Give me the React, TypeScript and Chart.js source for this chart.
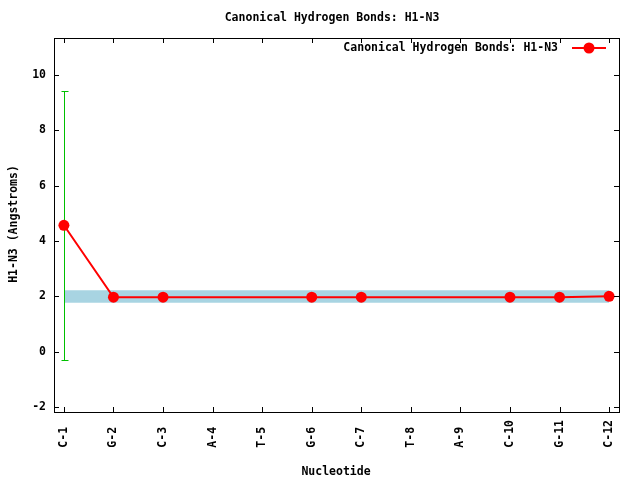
import React, { useEffect, useRef } from "react";
import { Chart, registerables } from "chart.js";

Chart.register(...registerables);

const categories = ["C-1", "G-2", "C-3", "A-4", "T-5", "G-6", "C-7", "T-8", "A-9", "C-10", "G-11", "C-12"];
const values: (number | null)[] = [4.57, 1.97, 1.97, null, null, 1.97, 1.97, null, null, 1.97, 1.97, 2.0];
const errLow: (number | null)[] = [-0.3, null, null, null, null, null, null, null, null, null, null, null];
const errHigh: (number | null)[] = [9.41, null, null, null, null, null, null, null, null, null, null, null];
const bandLow = 1.77;
const bandHigh = 2.22;
const yTicks = [-2, 0, 2, 4, 6, 8, 10];

const title = "Canonical Hydrogen Bonds: H1-N3";
const seriesLabel = "Canonical Hydrogen Bonds: H1-N3";
const xTitle = "Nucleotide";
const yTitle = "H1-N3 (Angstroms)";

const FONT = "'DejaVu Sans Mono', monospace";
const fontSpec = { family: FONT, weight: "bold" as const, size: 11.5 };

export default function App() {
  const ref = useRef<HTMLCanvasElement | null>(null);

  useEffect(() => {
    if (!ref.current) return;
    const maxLen = Math.max(...categories.map((c) => c.length));
    const points = values
      .map((v, i) => (v === null ? null : { x: i, y: v }))
      .filter((p) => p !== null) as { x: number; y: number }[];

    const decor = {
      id: "decor",
      beforeDatasetDraw(chart: any, args: any) {
        if (args.index !== 2) return;
        const { ctx } = chart;
        const xs = chart.scales.x;
        const ys = chart.scales.y;
        ctx.save();
        ctx.strokeStyle = "#00c000";
        ctx.lineWidth = 1;
        categories.forEach((_, i) => {
          const lo = errLow[i];
          const hi = errHigh[i];
          if (lo === null || hi === null) return;
          const px = Math.round(xs.getPixelForValue(i)) + 0.5;
          const pl = Math.round(ys.getPixelForValue(lo)) + 0.5;
          const ph = Math.round(ys.getPixelForValue(hi)) + 0.5;
          ctx.beginPath();
          ctx.moveTo(px, pl);
          ctx.lineTo(px, ph);
          ctx.moveTo(px - 3, pl);
          ctx.lineTo(px + 4, pl);
          ctx.moveTo(px - 3, ph);
          ctx.lineTo(px + 4, ph);
          ctx.stroke();
        });
        ctx.restore();
      },
      afterDraw(chart: any) {
        const { ctx, chartArea: a } = chart;
        const xs = chart.scales.x;
        const ys = chart.scales.y;
        ctx.save();
        ctx.strokeStyle = "#000";
        ctx.lineWidth = 1;
        ctx.strokeRect(Math.round(a.left) + 0.5, Math.round(a.top) + 0.5, Math.round(a.right - a.left), Math.round(a.bottom - a.top));
        ctx.beginPath();
        const tl = 5;
        yTicks.forEach((v) => {
          const py = Math.round(ys.getPixelForValue(v)) + 0.5;
          ctx.moveTo(a.left, py);
          ctx.lineTo(a.left + tl, py);
          ctx.moveTo(a.right, py);
          ctx.lineTo(a.right - tl, py);
        });
        categories.forEach((_, i) => {
          const px = Math.round(xs.getPixelForValue(i)) + 0.5;
          ctx.moveTo(px, a.bottom);
          ctx.lineTo(px, a.bottom - tl);
          ctx.moveTo(px, a.top);
          ctx.lineTo(px, a.top + tl);
        });
        ctx.stroke();

        ctx.fillStyle = "#000";
        ctx.font = `bold 11.5px ${FONT}`;
        ctx.textBaseline = "middle";
        ctx.textAlign = "center";
        ctx.fillText(title, 332, 18);
        ctx.fillText(xTitle, 336, 472);
        ctx.save();
        ctx.translate(14, 224);
        ctx.rotate(-Math.PI / 2);
        ctx.fillText(yTitle, 0, 0);
        ctx.restore();

        ctx.textAlign = "right";
        ctx.fillText(seriesLabel, 558, 48);
        ctx.strokeStyle = "#ff0000";
        ctx.lineWidth = 2;
        ctx.beginPath();
        ctx.moveTo(572, 48);
        ctx.lineTo(606, 48);
        ctx.stroke();
        ctx.fillStyle = "#ff0000";
        ctx.beginPath();
        ctx.arc(589, 48, 5.5, 0, Math.PI * 2);
        ctx.fill();
        ctx.restore();
      },
    };

    const chart = new Chart(ref.current, {
      type: "line",
      data: {
        datasets: [
          {
            label: "band-low",
            data: [{ x: 0, y: bandLow }, { x: categories.length - 1, y: bandLow }],
            borderWidth: 0,
            borderColor: "rgba(0,0,0,0)",
            pointRadius: 0,
            fill: false,
            order: 3,
          },
          {
            label: "band-high",
            data: [{ x: 0, y: bandHigh }, { x: categories.length - 1, y: bandHigh }],
            borderWidth: 0,
            borderColor: "rgba(0,0,0,0)",
            backgroundColor: "#a8d4e2",
            pointRadius: 0,
            fill: "-1",
            order: 2,
          },
          {
            label: seriesLabel,
            data: points,
            borderColor: "#ff0000",
            backgroundColor: "#ff0000",
            borderWidth: 2,
            pointRadius: 5.5,
            pointBorderWidth: 0,
            pointBackgroundColor: "#ff0000",
            fill: false,
            tension: 0,
            order: 1,
          },
        ],
      },
      options: {
        animation: false,
        responsive: false,
        layout: { padding: { top: 38, right: 21, left: 0, bottom: 0 } },
        plugins: {
          legend: { display: false },
          title: { display: false },
          tooltip: { enabled: false },
        },
        scales: {
          x: {
            type: "linear",
            min: -0.2,
            max: categories.length - 1 + 0.2,
            grid: { display: false, drawTicks: false },
            border: { display: false },
            afterBuildTicks: (s: any) => {
              s.ticks = categories.map((_, i) => ({ value: i }));
            },
            afterFit: (s: any) => {
              s.height = 68;
            },
            ticks: {
              autoSkip: false,
              minRotation: 90,
              maxRotation: 90,
              padding: 8,
              color: "#000",
              font: fontSpec,
              callback: (v: any) => {
                const c = categories[Math.round(Number(v))] ?? "";
                return c + " ".repeat(maxLen - c.length);
              },
            },
          },
          y: {
            type: "linear",
            min: -2.18,
            max: 11.34,
            grid: { display: false, drawTicks: false },
            border: { display: false },
            afterBuildTicks: (s: any) => {
              s.ticks = yTicks.map((v) => ({ value: v }));
            },
            afterFit: (s: any) => {
              s.width = 54;
            },
            ticks: {
              padding: 8,
              color: "#000",
              font: fontSpec,
              callback: (v: any) => String(v),
            },
          },
        },
      },
      plugins: [decor],
    });
    return () => chart.destroy();
  }, []);

  return (
    <div style={{ position: "absolute", left: 0, top: 0, width: 640, height: 480, background: "#fff" }}>
      <canvas ref={ref} width={640} height={480} />
    </div>
  );
}
